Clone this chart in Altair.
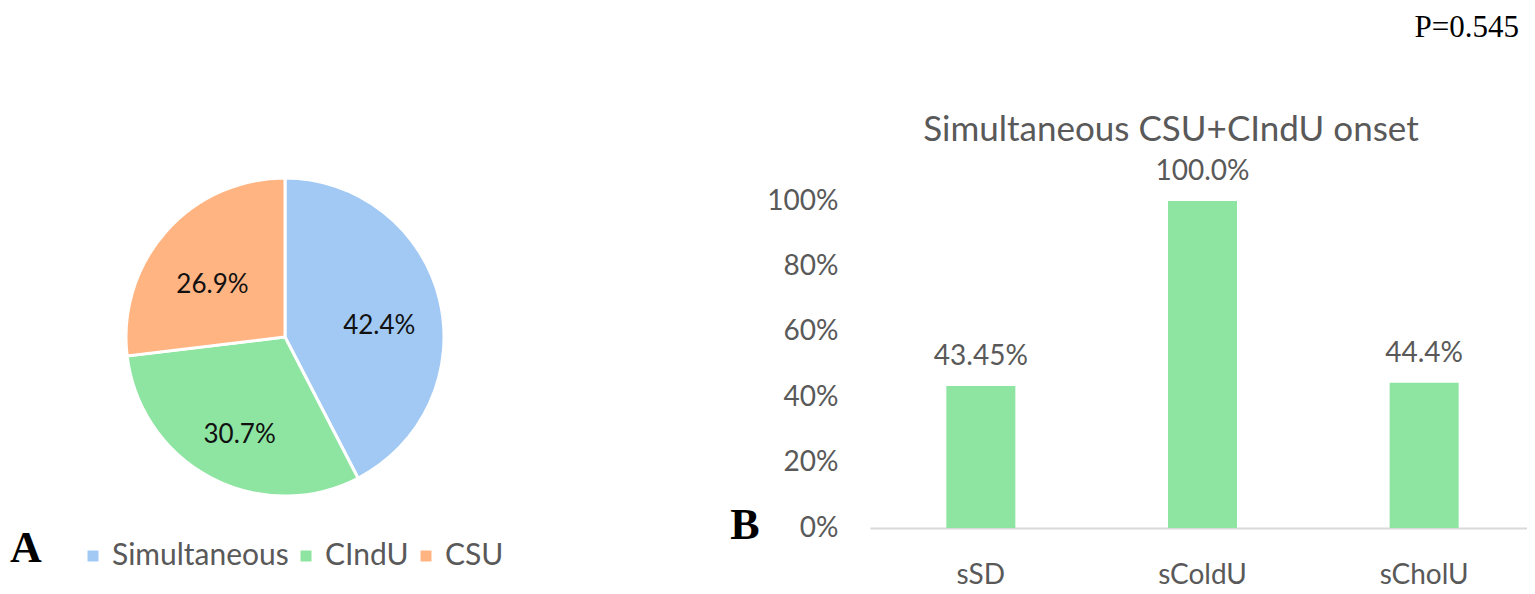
import altair as alt
import pandas as pd

# ---- data ----
pie_cats = ["Simultaneous", "CIndU", "CSU"]
pie_vals = [42.4, 30.7, 26.9]
pie_labels = ["42.4%", "30.7%", "26.9%"]
pie_colors = ["#a1c9f4", "#8de5a1", "#ffb482"]

bar_cats = ["sSD", "sColdU", "sCholU"]
bar_vals = [0.4345, 1.0, 0.444]
bar_labels = ["43.45%", "100.0%", "44.4%"]
bar_color = "#8de5a1"
y_ticks = [0, 0.2, 0.4, 0.6, 0.8, 1.0]

bar_title = "Simultaneous CSU+CIndU onset"
panel_a = "A"
panel_b = "B"
p_text = "P=0.545"

FONT = "Lato"
GRAY = "#595959"

pie_df = pd.DataFrame({"cat": pie_cats, "val": pie_vals, "lab": pie_labels,
                       "idx": list(range(len(pie_cats)))})
bar_df = pd.DataFrame({"cat": bar_cats, "val": bar_vals, "lab": bar_labels})

W, H = 1519, 584
CX, CY = 277, 329

theta = alt.Theta("val:Q", stack=True)
order = alt.Order("idx:Q")

pie = alt.Chart(pie_df).mark_arc(outerRadius=159, stroke="white", strokeWidth=3).encode(
    theta=theta,
    order=order,
    color=alt.Color("cat:N", scale=alt.Scale(domain=pie_cats, range=pie_colors),
                    legend=alt.Legend(orient="none", legendX=70, legendY=533,
                                      direction="horizontal", title=None,
                                      symbolType="square", symbolSize=121,
                                      symbolStrokeWidth=0, labelFontSize=30,
                                      labelFont=FONT, labelColor=GRAY, labelLimit=500,
                                      columnPadding=2, labelOffset=4, padding=0)),
    x=alt.value(CX), y=alt.value(CY),
)

pie_text = alt.Chart(pie_df).mark_text(radius=97, dy=12, fontSize=26, font=FONT,
                                       color="#111111").encode(
    theta=theta, order=order, text="lab:N",
    x=alt.value(CX), y=alt.value(CY),
)

xenc = alt.X("cat:N", sort=bar_cats, title=None,
             scale=alt.Scale(domain=bar_cats, range=[862, 1527], paddingInner=0, paddingOuter=0),
             axis=alt.Axis(orient="bottom", offset=520 - H, ticks=False, domainColor="#d9d9d9",
                           domainWidth=2, labelFontSize=28, labelFont=FONT, labelColor=GRAY,
                           labelPadding=33, labelAngle=0))
yenc = alt.Y("val:Q", title=None,
             scale=alt.Scale(domain=[0, 1], range=[520, 193], nice=False),
             axis=alt.Axis(orient="left", offset=-862, values=y_ticks, format=".0%",
                           ticks=False, domain=False, grid=False, labelFontSize=28,
                           labelFont=FONT, labelColor=GRAY, labelPadding=32))

bars = alt.Chart(bar_df).mark_bar(size=69, color=bar_color).encode(x=xenc, y=yenc)
bar_text = alt.Chart(bar_df).mark_text(dy=-29, fontSize=28, font=FONT, color=GRAY).encode(
    x=alt.X("cat:N", sort=bar_cats), y="val:Q", text="lab:N")

ann_df = pd.DataFrame({"t": [bar_title]})
title_mark = alt.Chart(ann_df).mark_text(fontSize=35, font=FONT, color=GRAY).encode(
    text="t:N", x=alt.value(1163), y=alt.value(122))

a_mark = alt.Chart(pd.DataFrame({"t": [panel_a]})).mark_text(
    fontSize=44, font="Liberation Serif", fontWeight="bold", color="black").encode(
    text="t:N", x=alt.value(18), y=alt.value(541))
b_mark = alt.Chart(pd.DataFrame({"t": [panel_b]})).mark_text(
    fontSize=44, font="Liberation Serif", fontWeight="bold", color="black").encode(
    text="t:N", x=alt.value(737), y=alt.value(518))
p_mark = alt.Chart(pd.DataFrame({"t": [p_text]})).mark_text(
    fontSize=31, font="Liberation Serif", color="black", align="right", baseline="top").encode(
    text="t:N", x=alt.value(1511), y=alt.value(5))

chart = alt.layer(pie, pie_text, bars, bar_text, title_mark, a_mark, b_mark, p_mark).properties(
    width=W, height=H, padding=0, autosize=alt.AutoSizeParams(type="none")
).configure_view(stroke=None)

chart.save("out.html", embed_options={"renderer": "svg", "actions": False})
